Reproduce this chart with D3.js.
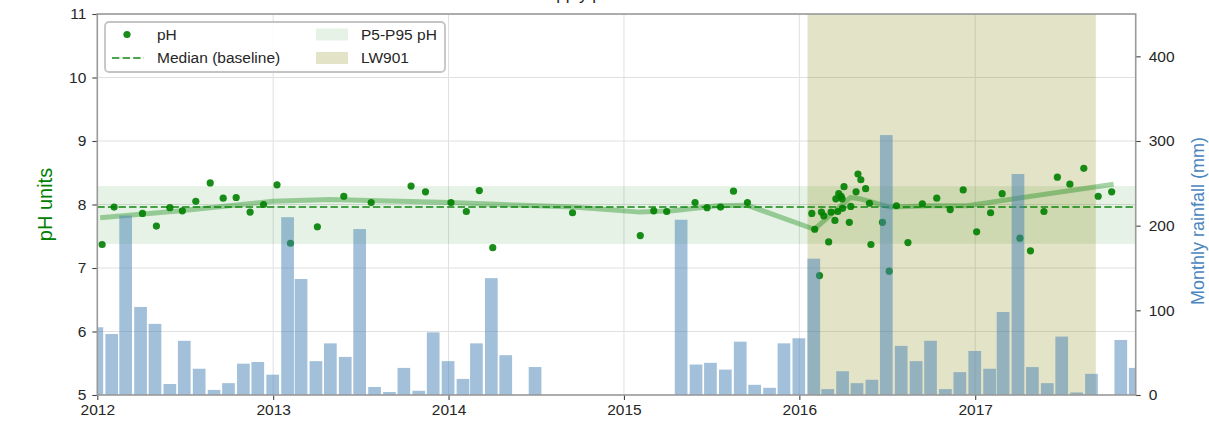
<!DOCTYPE html>
<html>
<head>
<meta charset="utf-8">
<script src="https://cdn.jsdelivr.net/npm/d3@7"></script>
<style>
  body { margin: 0; background: #fff; }
  text { font-family: Arial, "Liberation Sans", sans-serif; }
</style>
</head>
<body>
<div id="chart"></div>
<script>
// data

// monthly rainfall, bars sit on the month end
const rainMonths = [
    "2011-12",
    "2012-01","2012-02","2012-03","2012-04","2012-05","2012-06","2012-07","2012-08","2012-09","2012-10","2012-11","2012-12",
    "2013-01","2013-02","2013-03","2013-04","2013-05","2013-06","2013-07","2013-08","2013-09","2013-10","2013-11","2013-12",
    "2014-01","2014-02","2014-03","2014-04","2014-05","2014-06","2014-07","2014-08","2014-09","2014-10","2014-11","2014-12",
    "2015-01","2015-02","2015-03","2015-04","2015-05","2015-06","2015-07","2015-08","2015-09","2015-10","2015-11","2015-12",
    "2016-01","2016-02","2016-03","2016-04","2016-05","2016-06","2016-07","2016-08","2016-09","2016-10","2016-11","2016-12",
    "2017-01","2017-02","2017-03","2017-04","2017-05","2017-06","2017-07","2017-08","2017-09","2017-10","2017-11"
]
const rainfall = [
    80,
    72, 212, 104, 84, 13, 64, 31, 6, 14, 37, 39, 24,
    210, 137, 40, 61, 45, 196, 9.5, 3.5, 32, 5, 74, 40,
    19, 61, 138, 47, 0, 33, 0, 0, 0, 0, 0, 0,
    0, 0, 0, 207, 36, 38, 30, 63, 12, 8.5, 61, 67,
    161, 7, 28, 14, 18, 307, 58, 40, 64, 7, 27, 52,
    31, 98, 261, 33, 14, 69, 3, 25, 0, 65, 32
]

// pH samples
const phDates = [
    "2012-01-11","2012-02-05","2012-04-04","2012-05-03","2012-05-31","2012-06-26","2012-07-24","2012-08-23",
    "2012-09-19","2012-10-16","2012-11-14","2012-12-12","2013-01-09","2013-02-06","2013-04-03","2013-05-28",
    "2013-07-24","2013-10-15","2013-11-14","2014-01-06","2014-02-07","2014-03-06","2014-04-03","2014-09-16",
    "2015-02-04","2015-03-04","2015-03-31","2015-05-29","2015-06-23","2015-07-21","2015-08-17","2015-09-15",
    "2016-01-27","2016-02-02","2016-02-12","2016-02-16","2016-02-21","2016-03-02","2016-03-07","2016-03-15",
    "2016-03-17","2016-03-21","2016-03-23","2016-03-28","2016-03-30","2016-03-31","2016-04-03","2016-04-14",
    "2016-04-17","2016-04-28","2016-05-02","2016-05-08","2016-05-18","2016-05-26","2016-05-29","2016-06-22",
    "2016-07-06","2016-07-21","2016-08-14","2016-09-13","2016-10-13","2016-11-10","2016-12-07","2017-01-04",
    "2017-02-02","2017-02-26","2017-04-04","2017-04-26","2017-05-24","2017-06-21","2017-07-17","2017-08-15",
    "2017-09-14","2017-10-12"
]
const phValues = [
    7.37, 7.96, 7.86, 7.66, 7.95, 7.90, 8.05, 8.34,
    8.10, 8.11, 7.88, 8.00, 8.31, 7.39, 7.65, 8.13,
    8.03, 8.29, 8.20, 8.03, 7.89, 8.22, 7.32, 7.87,
    7.51, 7.90, 7.89, 8.03, 7.95, 7.96, 8.21, 8.03,
    7.86, 7.61, 6.88, 7.88, 7.82, 7.41, 7.88, 7.75,
    8.09, 7.89, 8.17, 8.13, 8.09, 7.94, 8.28, 7.72,
    7.97, 8.20, 8.48, 8.39, 8.25, 8.02, 7.37, 7.72,
    6.95, 7.98, 7.40, 8.01, 8.10, 7.92, 8.23, 7.57,
    7.87, 8.17, 7.47, 7.27, 7.89, 8.43, 8.32, 8.57,
    8.13, 8.20
]

// smoothed trend line
const trendDates = [
    "2012-01-07","2012-06-23","2013-01-01","2013-04-29","2014-01-04","2014-09-17","2015-02-04",
    "2015-04-13","2015-07-14","2015-09-14","2016-02-01","2016-04-16","2016-05-06","2016-07-08",
    "2016-09-29","2016-12-15","2017-10-16"
]
const trendValues = [
    7.79, 7.90, 8.05, 8.08, 8.03, 7.96, 7.88,
    7.90, 7.98, 7.99, 7.61, 8.11, 8.09, 7.96,
    7.98, 7.98, 8.32
]

const phMedian = 7.96
const phP5 = 7.38
const phP95 = 8.29
const lwStart = "2016-01-18"
const lwEnd = "2017-09-09"
const xDomain = ["2012-01-01", "2017-12-01"]
const phTicks = [5, 6, 7, 8, 9, 10, 11]
const rainTicks = [0, 100, 200, 300, 400]
const yearTicks = [2012, 2013, 2014, 2015, 2016, 2017]

// CHART

const width = 1209
const height = 426
const margin = { top: 14, bottom: 31, left: 97.3, right: 73.3 }
const innerW = width - margin.left - margin.right
const innerH = height - margin.top - margin.bottom

const parseDay = d3.utcParse("%Y-%m-%d")
const parseMonth = d3.utcParse("%Y-%m")

const svg = d3.select("div#chart").append("svg").attr("width", width).attr("height", height)

const x = d3.scaleUtc().domain(xDomain.map(parseDay)).range([0, innerW])
const yPh = d3.scaleLinear().domain([5, 11]).range([innerH, 0])
const yRain = d3.scaleLinear().domain([0, 450]).range([innerH, 0])

svg.append("defs").append("clipPath").attr("id", "plotClip")
    .append("rect").attr("width", innerW).attr("height", innerH)

// title, mostly above the window (as in the original)
svg.append("text")
    .attr("x", 613).attr("y", -0.5)
    .attr("text-anchor", "middle")
    .style("font-size", "17px")
    .style("fill", "#262626")
    .text("Supply pH vs rainfall")

const plot = svg.append("g").attr("transform", `translate(${margin.left},${margin.top})`)
const inner = plot.append("g").attr("clip-path", "url(#plotClip)")

// grid
const gridG = inner.append("g").attr("class", "grid")
gridG.selectAll("line.h").data(phTicks).join("line")
    .attr("class", "h")
    .attr("x1", 0).attr("x2", innerW)
    .attr("y1", d => yPh(d)).attr("y2", d => yPh(d))
    .attr("stroke", "#e0e0e0").attr("stroke-width", 1)
gridG.selectAll("line.v").data(yearTicks).join("line")
    .attr("class", "v")
    .attr("x1", d => x(Date.UTC(d, 0, 1))).attr("x2", d => x(Date.UTC(d, 0, 1)))
    .attr("y1", 0).attr("y2", innerH)
    .attr("stroke", "#e0e0e0").attr("stroke-width", 1)

// P5-P95 band
inner.append("rect")
    .attr("x", 0).attr("width", innerW)
    .attr("y", yPh(phP95)).attr("height", yPh(phP5) - yPh(phP95))
    .attr("fill", "green").attr("fill-opacity", 0.1)

// LW901 span
inner.append("rect")
    .attr("x", x(parseDay(lwStart))).attr("width", x(parseDay(lwEnd)) - x(parseDay(lwStart)))
    .attr("y", 0).attr("height", innerH)
    .attr("fill", "olive").attr("fill-opacity", 0.22)

// median
inner.append("line")
    .attr("x1", 0).attr("x2", innerW)
    .attr("y1", yPh(phMedian)).attr("y2", yPh(phMedian))
    .attr("stroke", "green").attr("stroke-opacity", 0.7)
    .attr("stroke-width", 2).attr("stroke-dasharray", "7.4,3.2")

// trend
const trend = trendDates.map((d, i) => ({ date: parseDay(d), v: trendValues[i] }))
inner.append("path")
    .datum(trend)
    .attr("d", d3.line().x(d => x(d.date)).y(d => yPh(d.v)))
    .attr("fill", "none")
    .attr("stroke", "green").attr("stroke-opacity", 0.35)
    .attr("stroke-width", 5).attr("stroke-linejoin", "round")

// pH points
const ph = phDates.map((d, i) => ({ date: parseDay(d), v: phValues[i] }))
inner.selectAll("circle.ph").data(ph).join("circle")
    .attr("class", "ph")
    .attr("cx", d => x(d.date)).attr("cy", d => yPh(d.v))
    .attr("r", 3.6)
    .attr("fill", "green").attr("fill-opacity", 0.9)

// rainfall bars (twin axis, drawn on top)
const rain = rainMonths.map((m, i) => ({ date: d3.utcDay.offset(d3.utcMonth.offset(parseMonth(m), 1), -1), v: rainfall[i] }))
inner.selectAll("rect.rain").data(rain).join("rect")
    .attr("class", "rain")
    .attr("x", d => x(d3.utcHour.offset(d.date, -317)))
    .attr("width", d => x(d3.utcHour.offset(d.date, 317)) - x(d3.utcHour.offset(d.date, -317)))
    .attr("y", d => yRain(d.v))
    .attr("height", d => innerH - yRain(d.v))
    .attr("fill", "steelblue").attr("fill-opacity", 0.5)

// axes
const xAxis = d3.axisBottom(x)
    .tickValues(yearTicks.map(d => new Date(Date.UTC(d, 0, 1))))
    .tickFormat(d3.utcFormat("%Y"))
    .tickSize(5).tickPadding(4)
const yAxis = d3.axisLeft(yPh).tickValues(phTicks).tickFormat(d3.format("d")).tickSize(5).tickPadding(6)
const yAxis2 = d3.axisRight(yRain).tickValues(rainTicks).tickFormat(d3.format("d")).tickSize(5).tickPadding(8)

const xAxisGroup = plot.append("g").attr("transform", `translate(0,${innerH})`).call(xAxis)
const yAxisGroup = plot.append("g").call(yAxis)
const yAxis2Group = plot.append("g").attr("transform", `translate(${innerW},0)`).call(yAxis2)

for (const g of [xAxisGroup, yAxisGroup, yAxis2Group]) {
    g.select(".domain").remove()
    g.selectAll(".tick line").attr("stroke", "#444").attr("stroke-width", 1.1)
    g.selectAll(".tick text")
        .style("font-size", "15.5px")
        .style("font-family", "Arial, 'Liberation Sans', sans-serif")
        .attr("fill", "#262626")
}

// frame
plot.append("rect")
    .attr("width", innerW).attr("height", innerH)
    .attr("fill", "none").attr("stroke", "#9a9a9a").attr("stroke-width", 1.6)

// axis labels
svg.append("text")
    .attr("transform", `translate(52,${margin.top + innerH / 2}) rotate(-90)`)
    .attr("text-anchor", "middle")
    .style("font-size", "20px")
    .attr("fill", "green")
    .text("pH units")

svg.append("text")
    .attr("transform", "translate(1204,221) rotate(-90)")
    .attr("text-anchor", "middle")
    .style("font-size", "18px")
    .attr("fill", "#4a86c0")
    .text("Monthly rainfall (mm)")

// legend
const legend = svg.append("g").attr("transform", "translate(105,22)")
legend.append("rect")
    .attr("width", 340).attr("height", 50).attr("rx", 4)
    .attr("fill", "#fff").attr("fill-opacity", 0.85)
    .attr("stroke", "#c4c4c4").attr("stroke-width", 1.8)

legend.append("circle").attr("cx", 22).attr("cy", 12.5).attr("r", 3.6)
    .attr("fill", "green").attr("fill-opacity", 0.9)
legend.append("line").attr("x1", 7).attr("x2", 39).attr("y1", 36).attr("y2", 36)
    .attr("stroke", "green").attr("stroke-opacity", 0.7)
    .attr("stroke-width", 2).attr("stroke-dasharray", "7.4,3.2")
legend.append("rect").attr("x", 211).attr("y", 6.5).attr("width", 32).attr("height", 12)
    .attr("fill", "green").attr("fill-opacity", 0.1)
legend.append("rect").attr("x", 211).attr("y", 30).attr("width", 32).attr("height", 12)
    .attr("fill", "olive").attr("fill-opacity", 0.22)

const legendTexts = [
    { x: 52, y: 12.5, t: "pH" },
    { x: 52, y: 36, t: "Median (baseline)" },
    { x: 256, y: 12.5, t: "P5-P95 pH" },
    { x: 256, y: 36, t: "LW901" }
]
legend.selectAll("text.lg").data(legendTexts).join("text")
    .attr("class", "lg")
    .attr("x", d => d.x).attr("y", d => d.y)
    .attr("dy", "0.35em")
    .style("font-size", "15.5px")
    .attr("fill", "#262626")
    .text(d => d.t)
</script>
</body>
</html>
